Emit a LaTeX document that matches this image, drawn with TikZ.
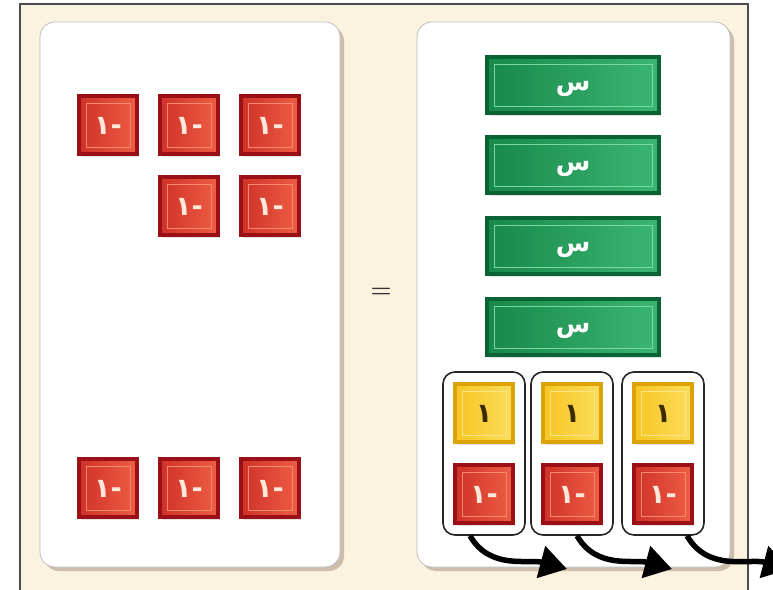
\documentclass[tikz,border=0pt]{standalone}
\usepackage{fontspec}
\newfontfamily\arabicfont[Script=Arabic]{DejaVu Sans}
\TeXXeTstate=1
\usetikzlibrary{shapes,arrows.meta,positioning,fit,shadows}
\definecolor{cream}{HTML}{FCF2E0}
\definecolor{negEdge}{HTML}{9A1016}
\definecolor{negA}{HTML}{CF3128}
\definecolor{negB}{HTML}{EE5E45}
\definecolor{negLine}{HTML}{F58A70}
\definecolor{negText}{HTML}{FFE8DA}
\definecolor{posEdge}{HTML}{DCA206}
\definecolor{posA}{HTML}{F6C623}
\definecolor{posB}{HTML}{FCDD5C}
\definecolor{posLine}{HTML}{FBE38A}
\definecolor{posText}{HTML}{3B2A00}
\definecolor{xEdge}{HTML}{0A6334}
\definecolor{xA}{HTML}{17894A}
\definecolor{xB}{HTML}{3CB572}
\definecolor{xLine}{HTML}{79D8A0}
\tikzset{
  tile/.style={minimum width=58pt,minimum height=58pt,inner sep=0pt,line width=4pt,
    font=\arabicfont\bfseries\fontsize{27}{27}\selectfont,text height=19pt,text depth=0pt,
    drop shadow={opacity=0.22,shadow xshift=2pt,shadow yshift=-3pt}},
  inset/.style={path picture={\draw[#1,line width=0.8pt]
    ([shift={(7pt,7pt)}]path picture bounding box.south west) rectangle
    ([shift={(-7pt,-7pt)}]path picture bounding box.north east);}},
  negtile/.style={tile,draw=negEdge,left color=negA,right color=negB,text=negText,inset=negLine},
  onetile/.style={tile,draw=posEdge,left color=posA,right color=posB,text=posText,inset=posLine},
  xbar/.style={tile,minimum width=172pt,minimum height=56pt,draw=xEdge,left color=xA,right color=xB,text=white,inset=xLine,
    font=\arabicfont\bfseries\fontsize{25}{25}\selectfont,text height=11pt},
  panel/.style={fill=white,draw=black!25,line width=0.8pt,rounded corners=15pt,inner sep=0pt,
    drop shadow={opacity=0.5,shadow xshift=4pt,shadow yshift=-4pt,fill=black!50!brown!60}},
  pair/.style={draw=black!85,line width=1.6pt,rounded corners=12pt,inner xsep=10pt,inner ysep=10pt},
  flow/.style={line width=5.5pt,-{Triangle[length=27pt,width=32pt]}}
}
\begin{document}
\begin{tikzpicture}[x=1pt,y=1pt]
\useasboundingbox (0,0) rectangle (773,589);
\fill[cream] (20,-4) rectangle (748,585);
\draw[black!70,line width=1.2pt] (20,-4) -- (20,585) -- (748,585) -- (748,-4);
\node[panel,fit={(40,22) (340,567)}] (left) {};
\node[panel,fit={(417,22) (730,567)}] (right) {};
\node[font=\bfseries\fontsize{24}{24}\selectfont,text=black!80] (eq) at (381,296) {=};
\foreach \x/\y [count=\n] in {108/464,189/464,270/464,189/383,270/383,108/101,189/101,270/101}
  \node[negtile] (M\n) at (\x,\y) {\beginR-١\endR};
\foreach \y [count=\n] in {504,424,343,262}
  \node[xbar] (X\n) at (573,\y) {\beginR س\endR};
\foreach \x [count=\n] in {484,572,663}{
  \node[onetile] (P\n) at (\x,176) {\beginR ١\endR};
  \node[negtile] (Q\n) at (\x,95) {\beginR-١\endR};
  \node[pair,fit=(P\n)(Q\n)] (G\n) {};
}
\foreach \n/\dx/\tx in {1/-14/567,2/5/672,3/24/790}{
  \coordinate (T\n) at (\tx,20);
  \draw[flow] ([xshift=\dx pt]G\n.south) to[out=-60,in=165] (T\n);
}
\end{tikzpicture}
\end{document}
